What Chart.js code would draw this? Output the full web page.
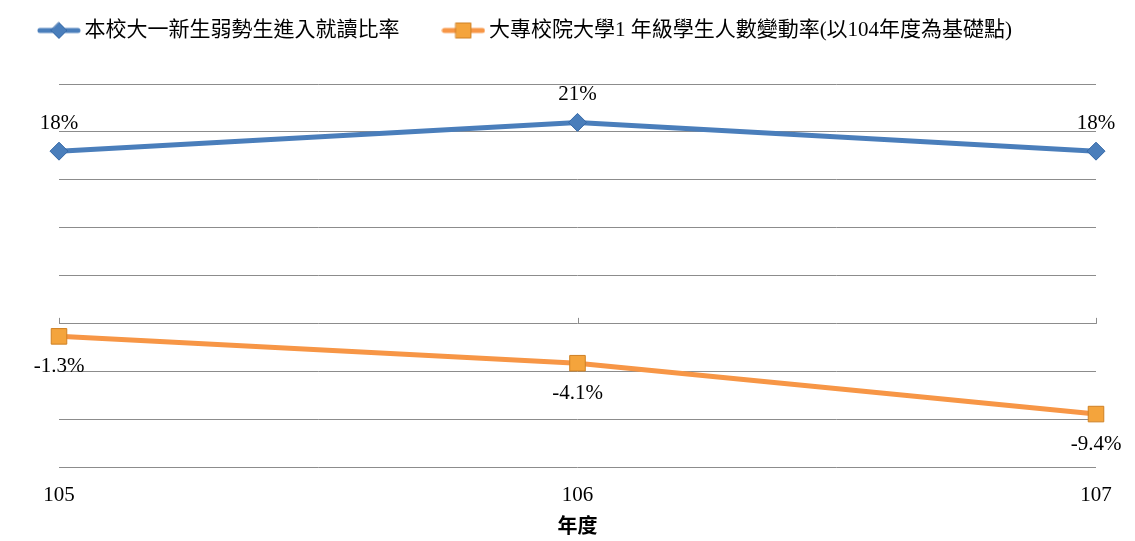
<!DOCTYPE html>
<html>
<head>
<meta charset="utf-8">
<script src="https://cdn.jsdelivr.net/npm/chart.js@4/dist/chart.umd.min.js"></script>
<style>
  html, body { margin: 0; padding: 0; background: #fff; }
  #wrap { width: 1135px; height: 541px; }
</style>
</head>
<body>
<div id="wrap"><canvas id="c"></canvas></div>
<script>
/* ---------- data ---------- */
const years = ["105", "106", "107"];
const weakRate = [18, 21, 18];
const changeRate = [-1.3, -4.1, -9.4];
const weakLabels = ["18%", "21%", "18%"];
const changeLabels = ["-1.3%", "-4.1%", "-9.4%"];
const seriesNames = [
  "本校大一新生弱勢生進入就讀比率",
  "大專校院大學1 年級學生人數變動率(以104年度為基礎點)"
];
const axisTitle = "年度";
const yMin = -15, yMax = 25, yStep = 5;

/* ---------- look ---------- */
const SERIF = "'Liberation Serif', 'Noto Sans CJK TC', serif";
const BLUE = "#4A7EBB", BLUE_DARK = "#3467A6";
const ORANGE = "#F79646", ORANGE_FILL = "#F4A43C", ORANGE_DARK = "#CF8024";
const GRID = "#8c8c8c";

// legend icon: short line with the marker in the middle
function legendIcon(color, fill, border, shape) {
  const cv = document.createElement("canvas");
  cv.width = 44; cv.height = 20;
  const g = cv.getContext("2d");
  g.strokeStyle = color; g.lineWidth = 5; g.lineCap = "round";
  g.beginPath(); g.moveTo(3, 10); g.lineTo(41, 10); g.stroke();
  g.fillStyle = fill; g.strokeStyle = border; g.lineWidth = 1;
  g.beginPath();
  if (shape === "diamond") {
    g.moveTo(22, 2); g.lineTo(30, 10); g.lineTo(22, 18); g.lineTo(14, 10); g.closePath();
  } else {
    g.rect(14.5, 2.5, 15, 15);
  }
  g.fill(); g.stroke();
  return cv;
}
const icons = [
  legendIcon(BLUE, BLUE, BLUE_DARK, "diamond"),
  legendIcon(ORANGE, ORANGE_FILL, ORANGE_DARK, "square")
];

/* ---------- plugins ---------- */
// little tick marks on the zero line, like the category axis crossing at 0
const zeroTicks = {
  id: "zeroTicks",
  beforeDatasetsDraw(chart) {
    const { ctx, scales: { x, y } } = chart;
    const y0 = y.getPixelForValue(0);
    ctx.save();
    ctx.strokeStyle = GRID; ctx.lineWidth = 1;
    years.forEach((_, i) => {
      const px = Math.round(x.getPixelForValue(i)) + 0.5;
      ctx.beginPath(); ctx.moveTo(px, y0); ctx.lineTo(px, y0 - 6); ctx.stroke();
    });
    ctx.restore();
  }
};

// value labels above (blue) / below (orange) the points
const valueLabels = {
  id: "valueLabels",
  afterDatasetsDraw(chart) {
    const { ctx } = chart;
    ctx.save();
    ctx.font = "21px " + SERIF;
    ctx.fillStyle = "#000";
    ctx.textAlign = "center";
    ctx.textBaseline = "middle";
    const texts = [weakLabels, changeLabels];
    const offs = [-28, 30];
    chart.data.datasets.forEach((ds, di) => {
      chart.getDatasetMeta(di).data.forEach((pt, i) => {
        ctx.fillText(texts[di][i], pt.x, pt.y + offs[di]);
      });
    });
    ctx.restore();
  }
};

// extra room under the legend
const legendGap = {
  id: "legendGap",
  beforeInit(chart) {
    const fit = chart.legend.fit;
    chart.legend.fit = function () {
      fit.bind(chart.legend)();
      this.height += 33;
    };
  }
};

/* ---------- chart ---------- */
new Chart(document.getElementById("c"), {
  type: "line",
  data: {
    labels: years,
    datasets: [
      {
        label: seriesNames[0],
        data: weakRate,
        borderColor: BLUE,
        borderWidth: 5,
        pointStyle: "rectRot",
        pointRadius: 9,
        pointBackgroundColor: BLUE,
        pointBorderColor: BLUE_DARK,
        pointBorderWidth: 1,
        tension: 0
      },
      {
        label: seriesNames[1],
        data: changeRate,
        borderColor: ORANGE,
        borderWidth: 5,
        pointStyle: "rect",
        pointRadius: 11,
        pointBackgroundColor: ORANGE_FILL,
        pointBorderColor: ORANGE_DARK,
        pointBorderWidth: 1,
        tension: 0
      }
    ]
  },
  options: {
    responsive: true,
    maintainAspectRatio: false,
    animation: false,
    layout: { padding: { top: -29, left: -40, right: 39, bottom: 1 } },
    plugins: {
      tooltip: { enabled: false },
      legend: {
        position: "top",
        labels: {
          font: { family: SERIF, size: 21 },
          color: "#000",
          usePointStyle: true,
          pointStyleWidth: 30,
          boxHeight: 20,
          padding: 49,
          generateLabels(chart) {
            return chart.data.datasets.map((ds, i) => ({
              text: ds.label,
              pointStyle: icons[i],
              fillStyle: ds.borderColor,
              strokeStyle: ds.borderColor,
              lineWidth: 0,
              fontColor: "#000",
              hidden: false,
              datasetIndex: i
            }));
          }
        }
      }
    },
    scales: {
      x: {
        grid: { display: false, drawTicks: false },
        border: { display: false },
        ticks: { font: { family: SERIF, size: 21 }, color: "#000", padding: 15 },
        title: {
          display: true,
          text: axisTitle,
          font: { family: SERIF, size: 20, weight: "bold" },
          color: "#000",
          padding: { top: -7, bottom: 0 }
        }
      },
      y: {
        min: yMin,
        max: yMax,
        ticks: { stepSize: yStep, display: false },
        grid: { color: GRID, lineWidth: 1, drawTicks: false },
        border: { display: false },
        afterFit(scale) { scale.width = 99; }
      }
    }
  },
  plugins: [zeroTicks, valueLabels, legendGap]
});
</script>
</body>
</html>
